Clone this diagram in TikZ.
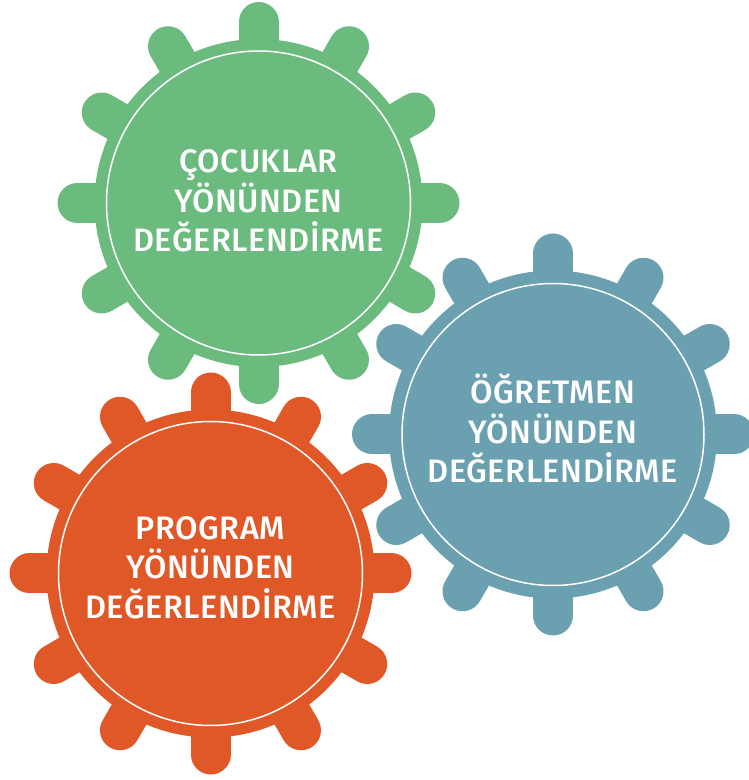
\documentclass[tikz,border=0pt]{standalone}
\usepackage{fontspec}
\setmainfont{Fira Sans}[UprightFont=* Medium, LetterSpace=1.5]
\usetikzlibrary {positioning}

\definecolor{cocukgreen}{RGB}{107,187,127}
\definecolor{ogretmenblue}{RGB}{107,160,177}
\definecolor{programorange}{RGB}{224,88,39}

\tikzset{
  tooth/.style={line width=40pt, line cap=round},
  gearbody/.style={circle, fill=#1, minimum size=328pt, inner sep=0pt},
  geartext/.style={text=white, align=center, inner sep=0pt,
    font=\fontsize{32.5}{39.5}\selectfont},
  ring/.style={draw=white, line width=1.5pt}
}

\begin{document}
\begin{tikzpicture}[x=1pt,y=1pt]
  \clip (0,0) rectangle (749,780);

  % gear centres
  \coordinate (gc) at (258.5,577);
  \coordinate (go) at (553,345.5);
  \coordinate (gp) at (210.5,206.5);

  % cocuklar
  \foreach \a in {0,30,...,330}
    \draw[tooth, cocukgreen] (gc) -- ++(\a:181);
  \node[gearbody=cocukgreen] (cocuk) at (gc) {};
  \draw[ring] (cocuk.center) circle[radius=152pt];
  \node[geartext] (cocuk-txt) at ([yshift=2pt]cocuk.center)
    {ÇOCUKLAR\\YÖNÜNDEN\\DEĞERLENDİRME};

  % ogretmen
  \foreach \a in {0,30,...,330}
    \draw[tooth, ogretmenblue] (go) -- ++(\a:181);
  \node[gearbody=ogretmenblue] (ogretmen) at (go) {};
  \draw[ring] (ogretmen.center) circle[radius=151pt];
  \node[geartext] (ogretmen-txt) at ([yshift=6pt]ogretmen.center)
    {ÖĞRETMEN\\YÖNÜNDEN\\DEĞERLENDİRME};

  % program
  \foreach \a in {0,30,...,330}
    \draw[tooth, programorange] (gp) -- ++(\a:181);
  \node[gearbody=programorange] (program) at (gp) {};
  \draw[ring] (program.center) circle[radius=152pt];
  \node[geartext] (program-txt) at ([yshift=6pt]program.center)
    {PROGRAM\\YÖNÜNDEN\\DEĞERLENDİRME};
\end{tikzpicture}
\end{document}
